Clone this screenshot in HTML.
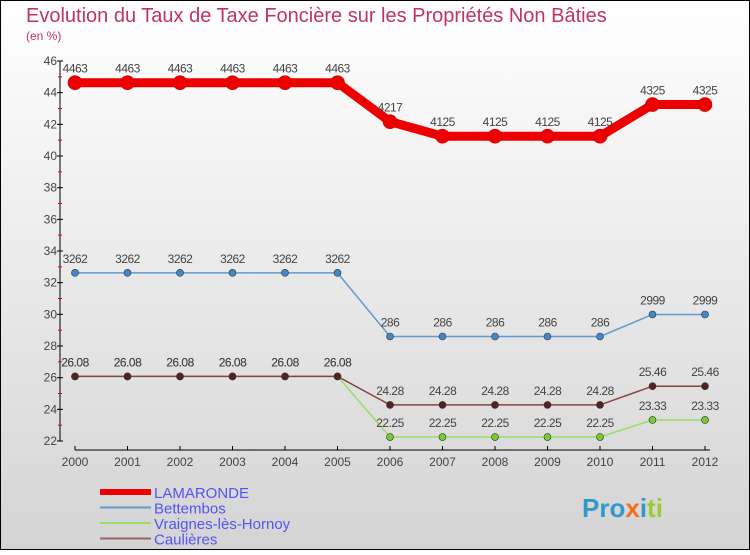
<!DOCTYPE html>
<html><head><meta charset="utf-8"><style>
body{margin:0}
svg text{font-family:"Liberation Sans",sans-serif}
</style></head><body>
<svg id="c" width="750" height="550" xmlns="http://www.w3.org/2000/svg">
<defs>
<linearGradient id="bg" x1="0" y1="0" x2="0" y2="1"><stop offset="0" stop-color="#ffffff"/><stop offset="1" stop-color="#d4d4d4"/></linearGradient>
</defs>
<rect x="0.5" y="0.5" width="749" height="549" fill="url(#bg)" stroke="#000"/>
<text x="26" y="22" font-size="20" fill="#c0336a">Evolution du Taux de Taxe Foncière sur les Propriétés Non Bâties</text>
<text x="26" y="40" font-size="12" fill="#c0336a">(en %)</text>
<g id="axes"></g>
<g id="series"></g>
<g id="legend"></g>
<text x="582" y="517" font-size="26" font-weight="bold" fill="#f0a020"><tspan fill="#3399cc">Pro</tspan><tspan fill="#f07020">x</tspan><tspan fill="#3399cc">i</tspan><tspan fill="#99cc33">ti</tspan></text>
</svg>
<script>
const years=[2000,2001,2002,2003,2004,2005,2006,2007,2008,2009,2010,2011,2012];
const yTicks=[22,24,26,28,30,32,34,36,38,40,42,44,46];
const names=["LAMARONDE","Bettembos","Vraignes-lès-Hornoy","Caulières"];
const lamaronde=[44.63,44.63,44.63,44.63,44.63,44.63,42.17,41.25,41.25,41.25,41.25,43.25,43.25];
const bettembos=[32.62,32.62,32.62,32.62,32.62,32.62,28.6,28.6,28.6,28.6,28.6,29.99,29.99];
const vraignes=[26.08,26.08,26.08,26.08,26.08,26.08,22.25,22.25,22.25,22.25,22.25,23.33,23.33];
const caulieres=[26.08,26.08,26.08,26.08,26.08,26.08,24.28,24.28,24.28,24.28,24.28,25.46,25.46];
const labels=[lamaronde.map(v=>String(v).replace('.','')),bettembos.map(v=>String(v).replace('.','')),vraignes.map(v=>String(v)),caulieres.map(v=>String(v))];
const NS="http://www.w3.org/2000/svg";
const X=i=>75+i*52.5, Y=v=>61+(46-v)*(380/24);
function mk(t,a,p){const e=document.createElementNS(NS,t);for(const k in a)e.setAttribute(k,a[k]);p.appendChild(e);return e;}
const ax=document.getElementById('axes');
let l=mk('line',{x1:60,y1:61,x2:60,y2:441,stroke:'#000'},ax);

yTicks.forEach(v=>{mk('line',{x1:57,y1:Y(v),x2:63,y2:Y(v),stroke:'#000'},ax);
 if(v<46) mk('line',{x1:58,y1:Y(v+1),x2:62,y2:Y(v+1),stroke:'#e00'},ax);
 const t=mk('text',{x:57,y:Y(v)+4,'font-size':12,fill:'#444','text-anchor':'end'},ax);t.textContent=v;
 });
l=mk('line',{x1:75,y1:450,x2:710,y2:450,stroke:'#000'},ax);

years.forEach((y,i)=>{mk('line',{x1:X(i),y1:446,x2:X(i),y2:450,stroke:'#000'},ax);
 const t=mk('text',{x:X(i),y:466,'font-size':12,fill:'#444','text-anchor':'middle'},ax);t.textContent=y;
 });
const sg=document.getElementById('series');
const ser=[
 {d:vraignes,c:'#99dd66',w:1.5,r:3.5,f:'#77cc33'},
 {d:caulieres,c:'#884444',w:1.5,r:3.5,f:'#552222'},
 {d:bettembos,c:'#6699cc',w:1.5,r:3.5,f:'#4488cc'},
 {d:lamaronde,c:'#ee0000',w:9,r:7,f:'#ee0000'}];
const lab=[labels[2],labels[3],labels[1],labels[0]];
const nm=['vraignes','caulieres','bettembos','lamaronde'];
ser.forEach((s,k)=>{
 const p=mk('polyline',{points:s.d.map((v,i)=>X(i)+','+Y(v)).join(' '),fill:'none',stroke:s.c,'stroke-width':s.w},sg);
 
 s.d.forEach((v,i)=>{const c=mk('circle',{cx:X(i),cy:Y(v),r:s.r,fill:s.f,stroke:k==3?'#c00':'#333','stroke-width':0.6},sg);
  
  const t=mk('text',{x:X(i),y:Y(v)-10,'font-size':12,fill:'#444','text-anchor':'middle','letter-spacing':'-0.5'},sg);t.textContent=lab[k][i];
  });
});
const lg=document.getElementById('legend');
const lc=['#ee0000','#6699cc','#99dd66','#996666'],lw=[6,2,2,2];
names.forEach((n,i)=>{const y=492+i*15.5;
 const r=mk('line',{x1:100,y1:y,x2:151,y2:y,stroke:lc[i],'stroke-width':lw[i]},lg);
 
 const t=mk('text',{x:154,y:y+6,'font-size':15,fill:'#5555ee'},lg);t.textContent=n;
 });
</script>
</body></html>
